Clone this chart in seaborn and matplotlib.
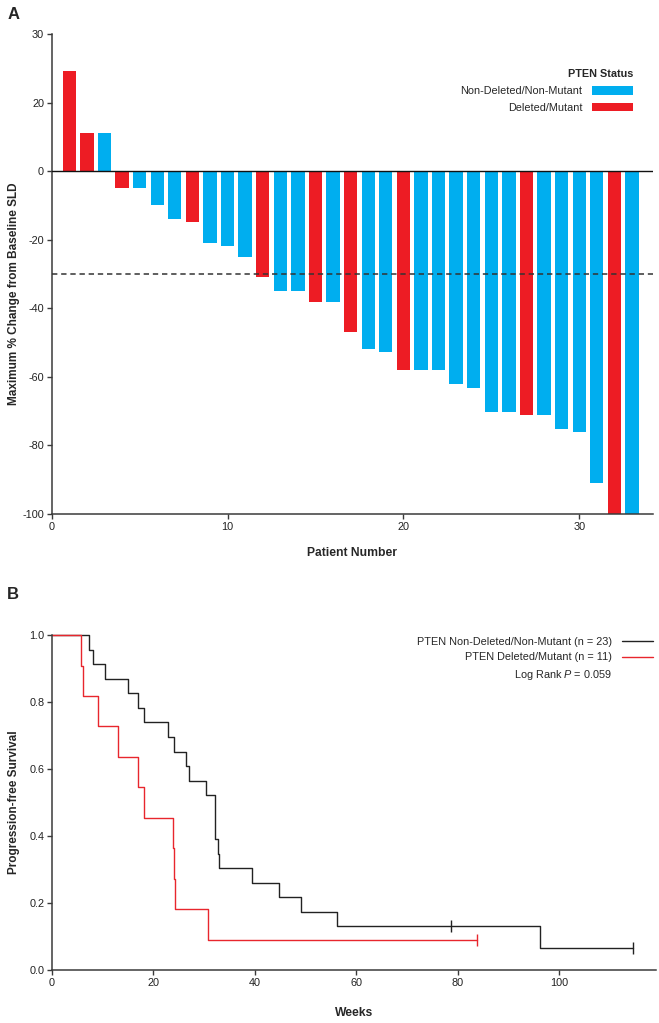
import numpy as np
import pandas as pd
import matplotlib
matplotlib.use("Agg")
import matplotlib.pyplot as plt
import seaborn as sns
from matplotlib.patches import Patch
from matplotlib.lines import Line2D

# ---- Panel A: waterfall data ----
patients = list(range(1, 34))
pct_change = [29.1, 11.0, 11.0, -4.9, -4.9, -10.0, -14.1, -14.9, -21.1, -21.9, -25.1,
              -31.0, -35.1, -35.1, -38.1, -38.1, -47.0, -52.0, -52.9, -58.1, -58.1, -58.1,
              -62.2, -63.2, -70.3, -70.3, -71.0, -71.0, -75.1, -76.2, -91.0, -100.0, -100.0]
status_code = ["D", "D", "N", "D", "N", "N", "N", "D", "N", "N", "N", "D", "N", "N", "D", "N",
               "D", "N", "N", "D", "N", "N", "N", "N", "N", "N", "D", "N", "N", "N", "N", "D", "N"]
status_names = {"N": "Non-Deleted/Non-Mutant", "D": "Deleted/Mutant"}
a_yticks = [40, 20, 0, -20, -40, -60, -80, -100]
a_yticklabels = ["30", "20", "0", "-20", "-40", "-60", "-80", "-100"]
a_xticks = [0, 10, 20, 30]
threshold = -30

# ---- Panel B: Kaplan-Meier data (weeks, 1 = progression, 0 = censored) ----
nondel_times = [7.4, 8.1, 10.5, 14.9, 16.9, 18.1, 22.8, 24.1, 26.5, 27.0, 30.4, 32.1, 32.1,
                32.1, 32.7, 33.0, 39.5, 44.8, 49.1, 56.2, 78.7, 96.2, 114.5]
nondel_events = [1] * 20 + [0, 1, 0]
del_times = [5.8, 6.2, 9.1, 13.1, 16.9, 18.2, 23.9, 24.1, 24.3, 30.8, 83.8]
del_events = [1] * 10 + [0]
b_xticks = [0, 20, 40, 60, 80, 100]
b_yticks = [0.0, 0.2, 0.4, 0.6, 0.8, 1.0]

BLUE = "#00aeef"
RED = "#ed1c24"
KM_BLACK = "#222222"
KM_RED = "#e8262d"
SPINE = "#3a3a3a"

sns.set_style("ticks")
plt.rcParams["font.family"] = ["Liberation Sans", "DejaVu Sans"]
plt.rcParams["mathtext.fontset"] = "custom"
plt.rcParams["mathtext.it"] = "Liberation Sans:italic"
plt.rcParams["mathtext.rm"] = "Liberation Sans"


def km_curve(times, events):
    t = np.array(times, dtype=float)
    e = np.array(events)
    n = len(t)
    xs, ys = [0.0], [1.0]
    cx, cy = [], []
    s = 1.0
    for ut in np.unique(t):
        d = int(((t == ut) & (e == 1)).sum())
        c = int(((t == ut) & (e == 0)).sum())
        if d > 0:
            s *= (n - d) / n
            xs.append(ut)
            ys.append(s)
        if c > 0:
            cx.append(ut)
            cy.append(s)
        n -= d + c
    xs.append(t.max())
    ys.append(s)
    return xs, ys, cx, cy


fig = plt.figure(figsize=(6.59, 10.23), dpi=100)
ax1 = fig.add_axes([0.0785, 0.4976, 0.9125, 0.4692])
ax2 = fig.add_axes([0.0788, 0.0518, 0.9161, 0.3274])

# === Panel A ===
df_a = pd.DataFrame({"patient": patients, "change": pct_change,
                     "status": [status_names[c] for c in status_code]})
palette = {"Non-Deleted/Non-Mutant": BLUE, "Deleted/Mutant": RED}
sns.barplot(data=df_a, x="patient", y="change", hue="status", palette=palette,
            native_scale=True, dodge=False, width=0.76, saturation=1, linewidth=0,
            legend=False, ax=ax1)
ax1.axhline(0, color="#111111", lw=1.0, zorder=3)
ax1.axhline(threshold, color="#333333", lw=1.1, dashes=(3.5, 2.5), zorder=4)
ax1.set_xlim(0, 34.2)
ax1.set_ylim(-100, 40)
ax1.set_yticks(a_yticks)
ax1.set_yticklabels(a_yticklabels)
ax1.set_xticks(a_xticks)
ax1.set_xticklabels([str(v) for v in a_xticks])
ax1.set_xlabel("Patient Number", fontsize=8.7, fontweight="bold")
ax1.set_ylabel("Maximum % Change from Baseline SLD", fontsize=8.5, fontweight="bold")
ax1.xaxis.set_label_coords(0.5, -0.068)
ax1.xaxis.label.set_va("top")
ax1.yaxis.set_label_coords(-0.053, 0.458)

handles_a = [Patch(facecolor=BLUE, edgecolor="none", label="Non-Deleted/Non-Mutant"),
             Patch(facecolor=RED, edgecolor="none", label="Deleted/Mutant")]
leg_a = ax1.legend(handles=handles_a, title="PTEN Status", loc="upper right",
                   bbox_to_anchor=(0.967, 0.926), frameon=False, markerfirst=False,
                   alignment="right", fontsize=7.8, handlelength=3.8, handleheight=0.8,
                   handletextpad=0.9, labelspacing=0.62, borderpad=0, borderaxespad=0)
leg_a.get_title().set_fontweight("bold")
leg_a.get_title().set_fontsize(7.8)

# === Panel B ===
xb1, yb1, cxb1, cyb1 = km_curve(nondel_times, nondel_events)
xb2, yb2, cxb2, cyb2 = km_curve(del_times, del_events)
sns.lineplot(x=xb1, y=yb1, drawstyle="steps-post", estimator=None, sort=False,
             color=KM_BLACK, lw=1.0, ax=ax2, clip_on=False)
sns.lineplot(x=xb2, y=yb2, drawstyle="steps-post", estimator=None, sort=False,
             color=KM_RED, lw=1.0, ax=ax2, clip_on=False)
sns.scatterplot(x=cxb1, y=cyb1, marker="|", s=70, color=KM_BLACK, linewidth=1.0, ax=ax2)
sns.scatterplot(x=cxb2, y=cyb2, marker="|", s=70, color=KM_RED, linewidth=1.0, ax=ax2)
ax2.set_xlim(0, 119)
ax2.set_ylim(0, 1.0)
ax2.set_xticks(b_xticks)
ax2.set_yticks(b_yticks)
ax2.set_yticklabels([f"{v:.1f}" for v in b_yticks])
ax2.set_xlabel("Weeks", fontsize=8.7, fontweight="bold")
ax2.set_ylabel("Progression-free Survival", fontsize=8.5, fontweight="bold")
ax2.xaxis.set_label_coords(0.5, -0.11)
ax2.xaxis.label.set_va("top")
ax2.yaxis.set_label_coords(-0.053, 0.5)

handles_b = [Line2D([], [], color=KM_BLACK, lw=1.0),
             Line2D([], [], color=KM_RED, lw=1.0),
             Line2D([], [], color="none")]
labels_b = ["PTEN Non-Deleted/Non-Mutant (n = 23)", "PTEN Deleted/Mutant (n = 11)",
            "Log Rank $\\it{P}$ = 0.059"]
ax2.legend(handles_b, labels_b, loc="upper right", bbox_to_anchor=(0.996, 0.995),
           frameon=False, markerfirst=False, fontsize=7.8, handlelength=2.9,
           handletextpad=0.9, labelspacing=0.52, borderpad=0, borderaxespad=0)

for ax in (ax1, ax2):
    sns.despine(ax=ax)
    for sp in ("left", "bottom"):
        ax.spines[sp].set_color(SPINE)
        ax.spines[sp].set_linewidth(1.1)
    ax.tick_params(axis="both", labelsize=7.8, length=3.5, width=1.0, color=SPINE,
                   labelcolor="#222222", pad=2)

fig.text(0.011, 0.986, "A", fontsize=12, fontweight="bold", va="center", ha="left")
fig.text(0.011, 0.4185, "B", fontsize=12, fontweight="bold", va="center", ha="left")

fig.savefig("out.png", dpi=100)
